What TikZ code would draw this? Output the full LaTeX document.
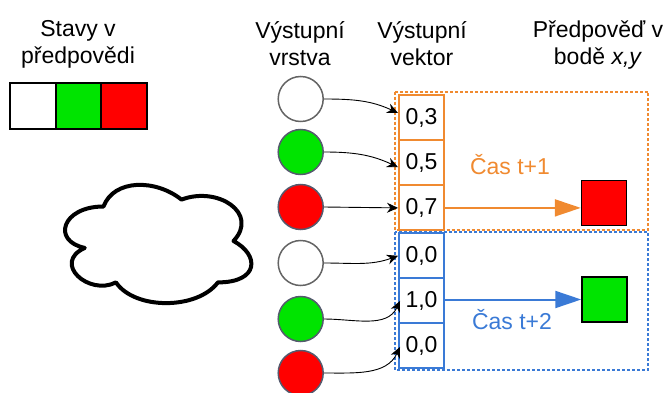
\documentclass[tikz,border=0pt]{standalone}
\usepackage{fontspec}
\setmainfont{Liberation Sans}
\usetikzlibrary{arrows.meta,positioning}
\definecolor{cgreen}{RGB}{0,228,0}
\definecolor{cred}{RGB}{255,0,0}
\definecolor{corange}{RGB}{240,138,48}
\definecolor{cblue}{RGB}{58,122,214}
\definecolor{cgray}{RGB}{100,100,100}
\definecolor{cslate}{RGB}{85,90,110}
\tikzset{
  txt/.style={font=\fontsize{23}{27}\selectfont, inner sep=0pt, align=center},
  neuron/.style={circle, minimum size=45pt, inner sep=0pt, line width=1.5pt},
  vecbox/.style={rectangle, minimum width=45pt, minimum height=45pt, inner sep=0pt, line width=2pt, font=\fontsize{23}{27}\selectfont},
  statecell/.style={rectangle, draw=black, line width=2.2pt, minimum width=45.5pt, minimum height=46pt, inner sep=0pt},
  outsq/.style={rectangle, draw=black, line width=1.5pt, minimum width=45pt, minimum height=45pt, inner sep=0pt},
  conn/.style={-{Stealth[length=11pt,width=10pt]}, line width=0.9pt, black},
  bigarrow/.style={-{Triangle[length=26pt,width=17pt]}, line width=2pt},
  group/.style={line width=1.8pt, dash pattern=on 3pt off 2pt},
  cloudline/.style={draw=black, line width=4pt, line join=round}
}
\begin{document}
\begin{tikzpicture}[x=1pt,y=-1pt]
\useasboundingbox (0,0) rectangle (669,393);
% headers
\node[txt] (h1) at (78,44) {Stavy v\\předpovědi};
\node[txt] (h2) at (300,44) {Výstupní\\vrstva};
\node[txt] (h3) at (422,44) {Výstupní\\vektor};
\node[txt] (h4) at (598,45) {Předpověď v\\bodě \textit{x,y}};
% state bar
\node[statecell, fill=white] (s1) at (33,106) {};
\node[statecell, fill=cgreen] (s2) at (78.5,106) {};
\node[statecell, fill=cred] (s3) at (124,106) {};
% cloud
\begin{scope}[shift={(51.5,172)}, x=208pt, y=-138pt]
\draw[cloudline] (0.25,0.25)
  .. controls (0.05,0.25) and (0,0.5) .. (0.16,0.55)
  .. controls (0,0.66) and (0.18,0.9) .. (0.31,0.8)
  .. controls (0.4,1) and (0.7,1) .. (0.8,0.8)
  .. controls (1,0.8) and (1,0.6) .. (0.875,0.5)
  .. controls (1,0.3) and (0.8,0.1) .. (0.625,0.2)
  .. controls (0.5,0.05) and (0.3,0.05) .. (0.25,0.25) -- cycle;
\end{scope}
% group boxes
\draw[group, draw=corange] (395,91.7) rectangle (648,230);
\draw[group, draw=cblue] (395,232) rectangle (648,370);
% neurons
\node[neuron, draw=cgray, fill=white] (c1) at (300.7,99) {};
\node[neuron, draw=cslate, fill=cgreen] (c2) at (300.7,152) {};
\node[neuron, draw=cslate, fill=cred] (c3) at (300.7,207) {};
\node[neuron, draw=cgray, fill=white] (c4) at (300.7,263) {};
\node[neuron, draw=cslate, fill=cgreen] (c5) at (300.7,319) {};
\node[neuron, draw=cslate, fill=cred] (c6) at (300.7,373) {};
% vector
\node[vecbox, draw=corange] (v1) at (421.5,117.5) {0,3};
\node[vecbox, draw=corange] (v2) at (421.5,162.7) {0,5};
\node[vecbox, draw=corange] (v3) at (421.5,207.9) {0,7};
\node[vecbox, draw=cblue] (v4) at (421.5,255.8) {0,0};
\node[vecbox, draw=cblue] (v5) at (421.5,300.9) {1,0};
\node[vecbox, draw=cblue] (v6) at (421.5,345.9) {0,0};
% outputs
\node[outsq, fill=cred] (o1) at (604,203) {};
\node[outsq, fill=cgreen] (o2) at (604.5,299.5) {};
\node[txt, text=corange] (t1) at (510,165) {Čas t+1};
\node[txt, text=cblue] (t2) at (512,320) {Čas t+2};
% connectors
\draw[conn] (c1.east) to[out=0,in=155] ([yshift=4.5pt]v1.west);
\draw[conn] (c2.east) to[out=0,in=155] ([yshift=-4.5pt]v2.west);
\draw[conn] (c3.east) -- (v3.west);
\draw[conn] (c4.east) to[out=0,in=200] (v4.west);
\draw[conn] (c5.east) to[out=0,in=245] ([xshift=2pt]v5.west);
\draw[conn] (c6.east) to[out=0,in=245] ([xshift=2pt,yshift=-1pt]v6.west);
\draw[bigarrow, corange] (v3.east) -- (v3.east -| o1.west);
\draw[bigarrow, cblue] (v5.east |- o2.west) -- (o2.west);
\end{tikzpicture}
\end{document}
